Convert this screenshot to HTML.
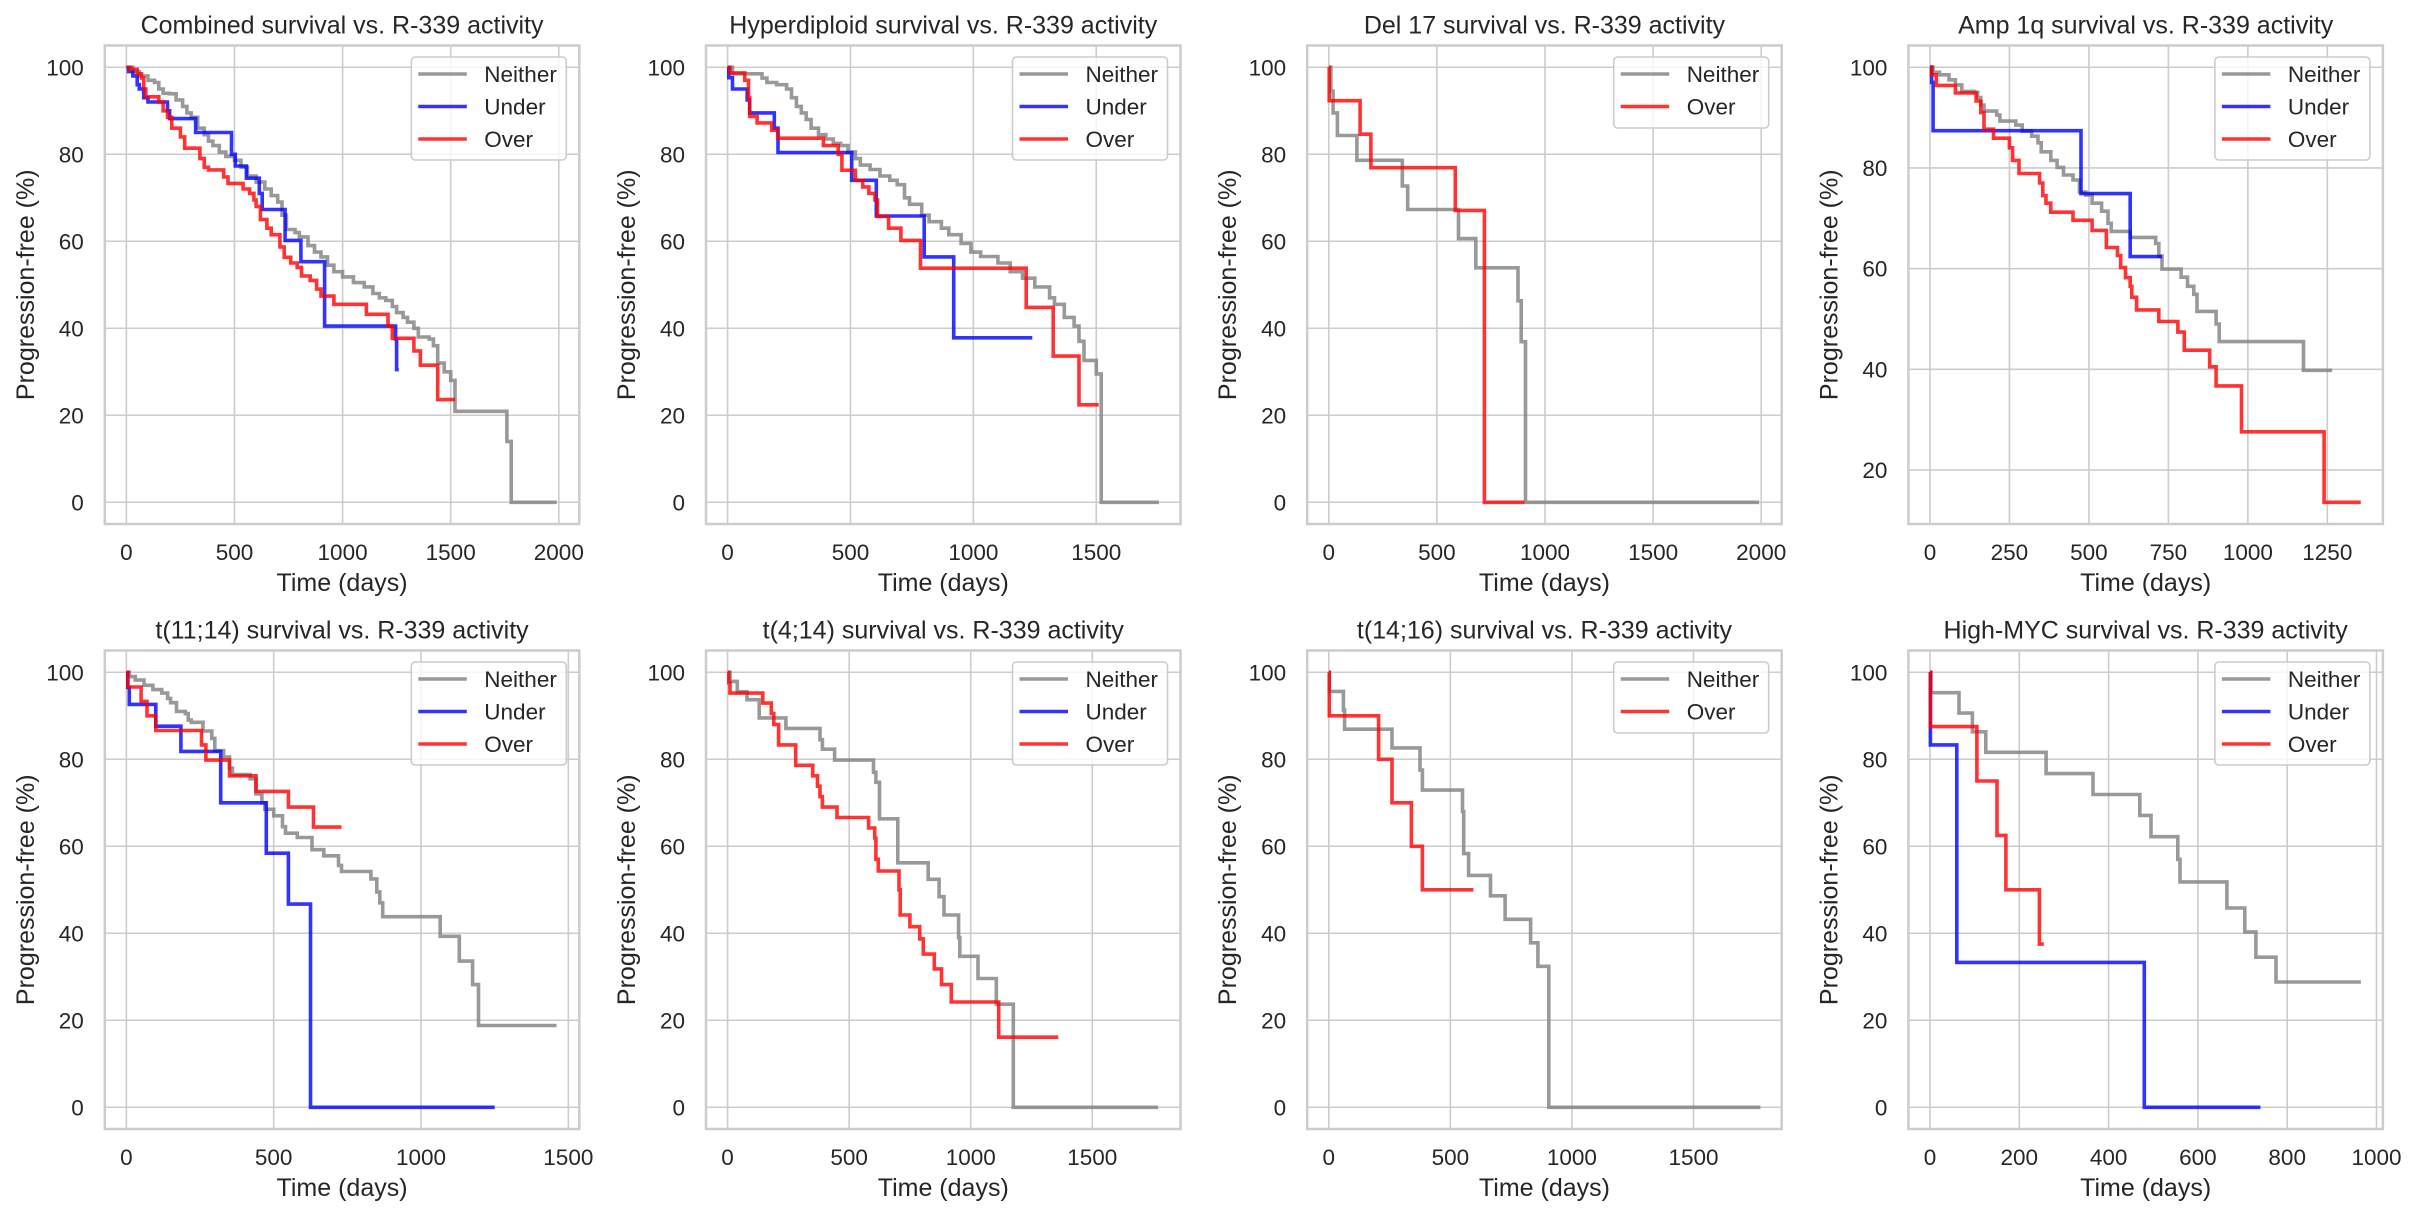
<!DOCTYPE html>
<html><head><meta charset="utf-8"><style>
html,body{margin:0;padding:0;background:#fff;}
svg{display:block;font-family:"Liberation Sans",Arial,sans-serif;}
</style></head><body>
<svg id="s" width="2418" height="1218" viewBox="0 0 2418 1218" xmlns="http://www.w3.org/2000/svg"></svg>
<script>
var P=[
{title:"Combined survival vs. R-339 activity",xm:1995,xs:500,leg:3,ser:[
['gray',[[0,100],[30,99],[60,98],[100,97],[130,96.5],[150,95],[170,94],[200,93.9],[230,92.5],[260,91],[280,89.5],[300,88.5],[330,86],[360,84.5],[380,83],[400,82],[430,80.5],[460,79.5],[500,78.6],[530,77],[560,75],[600,73.6],[640,72],[670,70.5],[700,69],[720,66],[740,62.7],[780,62],[800,61],[840,59],[870,57.5],[900,56.4],[930,54.5],[960,53],[1000,51.8],[1050,50.5],[1100,49.5],[1140,48],[1170,47],[1200,46.4],[1230,45],[1250,43.6],[1280,42.5],[1300,41.4],[1330,40],[1350,38],[1400,37.5],[1420,36],[1440,32],[1470,30],[1500,28],[1520,20.9],[1760,14],[1780,0]],1990],
['blue',[[0,100],[10,99],[30,98],[50,96],[60,95],[80,93],[100,92],[190,90],[200,88.2],[320,85],[486,80],[504,77.3],[555,74.5],[615,71],[628,67.3],[734,60.2],[807,55.3],[917,40.5],[1245,37.5],[1250,30.5]],1260],
['red',[[0,100],[20,99.5],[50,98.5],[70,97.5],[80,95],[90,93.2],[150,92],[170,90],[190,88.5],[210,86],[250,84],[270,81.4],[340,79],[360,77],[380,76.4],[450,74.8],[470,73.3],[540,72],[570,71],[590,69.5],[600,68],[620,65],[650,63],[670,61.5],[710,58.7],[730,56.3],[760,55],[790,54],[810,52],[850,51],[880,49],[900,47.4],[960,45.5],[1110,43.2],[1210,40.5],[1230,37.7],[1330,34.8],[1360,31.5],[1440,23.6]],1520]]},
{title:"Hyperdiploid survival vs. R-339 activity",xm:1755,xs:500,leg:3,ser:[
['gray',[[0,100],[20,98.5],[140,97.5],[160,96.5],[200,96],[240,95],[260,93],[280,91],[300,89.5],[320,88],[340,86],[370,84.5],[400,83.5],[430,82.5],[460,82],[490,80.5],[520,79],[540,77.5],[580,76.5],[620,75],[660,74],[690,73],[720,70],[740,68.5],[790,66],[820,64.5],[870,63],[900,61.5],[950,59.5],[990,57.5],[1030,56.5],[1100,55],[1150,53],[1200,51.5],[1250,49.5],[1310,47],[1330,45.5],[1370,42.5],[1410,40.5],[1430,37],[1450,32.6],[1500,29.5],[1520,0]],1755],
['blue',[[0,100],[5,97.6],[20,95],[80,92.5],[90,89.5],[190,86],[205,80.4],[505,74],[605,65.8],[800,56.4],[920,37.8]],1240],
['red',[[0,100],[10,98.7],[70,97],[85,93],[90,88.7],[120,87.2],[180,85.5],[205,83.7],[390,82],[450,80],[465,76.3],[520,74],[550,72.5],[575,71],[600,69.5],[610,65.7],[655,63],[705,60.2],[785,53.8],[1215,44.8],[1325,33.6],[1430,22.4]],1510]]},
{title:"Del 17 survival vs. R-339 activity",xm:1995,xs:500,leg:2,ser:[
['gray',[[0,100],[10,94.5],[20,89.5],[40,84.3],[130,78.6],[340,72.7],[365,67.3],[600,60.6],[680,53.9],[875,46.3],[890,36.9],[910,0]],1990],
null,
['red',[[0,100],[2,92.3],[145,84.6],[195,76.9],[585,67.1],[720,0]],905]]},
{title:"Amp 1q survival vs. R-339 activity",xm:1357,xs:250,leg:3,ymin:13.6,ser:[
['gray',[[0,100],[10,99],[30,98.5],[60,97.5],[80,96.5],[100,95.2],[140,95],[150,94],[160,92.5],[170,91.3],[210,90.5],[220,89.3],[270,88.5],[290,87.3],[320,86.3],[340,85],[350,83.2],[380,81.5],[400,80.1],[420,78.6],[450,77.6],[470,75.2],[490,74.6],[510,73],[540,71.4],[560,69],[570,67.4],[630,66.2],[710,65],[720,62.5],[730,59.9],[790,58.3],[810,56.5],[830,54.9],[840,51.5],[900,49],[910,45.5],[1175,39.8]],1265],
['blue',[[0,100],[5,97],[10,87.4],[475,74.9],[630,62.4]],730],
['red',[[0,100],[5,98.5],[20,96.4],[80,94.9],[145,93.3],[160,91],[170,87.7],[200,85.9],[250,84],[260,81.5],[280,78.9],[345,77],[355,74.5],[365,73],[380,71.2],[450,69.6],[510,67.6],[555,64.2],[590,62.6],[600,60.2],[615,58.2],[630,56.5],[635,54.3],[650,51.8],[720,49.5],[780,47.4],[800,43.8],[880,40.5],[900,36.7],[980,27.6],[1240,13.6]],1355]]},
{title:"t(11;14) survival vs. R-339 activity",xm:1464,xs:500,leg:3,ser:[
['gray',[[0,100],[10,99],[30,98.2],[60,97],[90,96],[120,95.2],[140,94],[150,93],[170,91],[200,90.5],[210,89],[220,88.5],[260,86.5],[290,84.8],[300,82],[330,80.5],[350,78],[360,76.5],[420,75.5],[440,72],[460,70],[470,68.5],[500,67],[530,64.5],[540,63],[580,62],[630,59.2],[670,57.8],[720,55.6],[730,54.2],[830,52.5],[850,49.5],[860,47],[870,43.8],[1065,39.3],[1130,33.6],[1175,28.2],[1195,18.8]],1460],
['blue',[[0,100],[5,96.5],[10,92.6],[100,87.6],[185,81.8],[320,70],[475,58.4],[550,46.7],[625,0]],1250],
['red',[[0,100],[5,96.6],[50,93.3],[70,90],[100,86.6],[255,83.3],[270,79.8],[350,76.2],[440,72.6],[550,69],[635,64.4]],730]]},
{title:"t(4;14) survival vs. R-339 activity",xm:1774,xs:500,leg:3,ser:[
['gray',[[0,100],[10,97.9],[40,95.5],[80,93.7],[130,89.5],[240,87.1],[380,84.5],[390,82.3],[440,79.8],[600,77],[610,74.7],[625,66.3],[700,56.2],[825,52.4],[870,48.4],[890,44.2],[950,39],[955,34.7],[1030,29.6],[1105,23.7],[1175,0]],1770],
null,
['red',[[0,100],[5,97.6],[10,95.2],[145,92.9],[180,90.5],[190,88],[210,83.3],[280,78.6],[350,76.2],[370,73.8],[380,71.4],[390,69],[450,66.6],[580,64.2],[605,61.9],[610,57],[620,54.3],[705,50],[710,44.2],[750,41.5],[790,38.7],[805,35.2],[850,31.8],[880,28.2],[920,24.2],[1115,16.1]],1360]]},
{title:"t(14;16) survival vs. R-339 activity",xm:1774,xs:500,leg:2,ser:[
['gray',[[0,100],[2,95.6],[60,91.3],[65,86.9],[260,82.6],[375,77.5],[385,72.9],[550,68],[555,58.3],[575,53.3],[665,48.6],[725,43.2],[830,37.8],[860,32.4],[905,0]],1775],
null,
['red',[[0,100],[2,90],[205,80],[260,70],[340,60],[385,50]],595]]},
{title:"High-MYC survival vs. R-339 activity",xm:966,xs:200,leg:3,ser:[
['gray',[[0,100],[2,95.3],[65,90.6],[95,86.3],[125,81.6],[260,76.7],[365,71.9],[470,67.1],[495,62.2],[555,57],[560,51.8],[665,45.8],[705,40.3],[730,34.5],[775,28.8]],965],
['blue',[[0,100],[1,83.3],[60,33.3],[480,0]],740],
['red',[[0,100],[1,87.5],[105,75],[150,62.5],[170,50],[245,37.5]],255]]}
];
var NS="http://www.w3.org/2000/svg",svg=document.getElementById('s');
function el(n,a,t){var e=document.createElementNS(NS,n);for(var k in a)e.setAttribute(k,a[k]);if(t!==undefined)e.textContent=t;svg.appendChild(e);return e;}
var W=474.5,H=478.5,TC="#262626",LW=3.6;
P.forEach(function(p,i){
 var c=i%4,r=Math.floor(i/4),L=104.8+601.2*c,T=45.5+605*r;
 var ymin=p.ymin||0,x0=-0.05*p.xm,x1=1.05*p.xm,y0=ymin-0.05*(100-ymin),y1=100+0.05*(100-ymin);
 function X(t){return L+(t-x0)/(x1-x0)*W;} function Y(s){return T+(y1-s)/(y1-y0)*H;}
 for(var t=0;t<=x1;t+=p.xs){var xx=X(t);el('line',{x1:xx,x2:xx,y1:T,y2:T+H,stroke:'#cccccc','stroke-width':1.6});
  el('text',{x:xx,y:T+H+36,'text-anchor':'middle','font-size':22.5,fill:TC},String(t));}
 for(var v=0;v<=100;v+=20){if(v<y0)continue;var yy=Y(v);el('line',{x1:L,x2:L+W,y1:yy,y2:yy,stroke:'#cccccc','stroke-width':1.6});
  el('text',{x:L-21,y:yy+8,'text-anchor':'end','font-size':22.5,fill:TC},String(v));}
 el('rect',{x:L,y:T,width:W,height:H,fill:'none',stroke:'#cccccc','stroke-width':2.5});
 el('text',{x:L+W/2,y:T-12,'text-anchor':'middle','font-size':25,fill:TC},p.title);
 el('text',{x:L+W/2,y:T+H+67,'text-anchor':'middle','font-size':25,fill:TC},'Time (days)');
 el('text',{x:0,y:0,'text-anchor':'middle','font-size':25,fill:TC,transform:'translate('+(L-71)+','+(T+H/2)+') rotate(-90)'},'Progression-free (%)');
 p.ser.forEach(function(s){if(!s)return;var pts=s[1];var d='M'+X(0).toFixed(1)+','+Y(pts[0][1]).toFixed(1);
  for(var k=1;k<pts.length;k++){d+='H'+X(pts[k][0]).toFixed(1)+'V'+Y(pts[k][1]).toFixed(1);}
  d+='H'+X(s[2]).toFixed(1);
  el('path',{d:d,fill:'none',stroke:s[0],'stroke-opacity':0.8,'stroke-width':LW});});
 var names=p.leg==3?[['gray','Neither'],['blue','Under'],['red','Over']]:[['gray','Neither'],['red','Over']];
 var lh=p.leg==3?103:71,lx=L+W-13-155,ly=T+11.5;
 el('rect',{x:lx,y:ly,width:155,height:lh,rx:4,fill:'#fff','fill-opacity':0.8,stroke:'#cccccc','stroke-width':1.6});
 names.forEach(function(n,k){var yy=ly+17+32.5*k;el('line',{x1:lx+7,x2:lx+55.5,y1:yy,y2:yy,stroke:n[0],'stroke-opacity':0.8,'stroke-width':LW});
  el('text',{x:lx+73,y:yy+8,'font-size':22.5,fill:TC},n[1]);});
});
</script>
</body></html>
